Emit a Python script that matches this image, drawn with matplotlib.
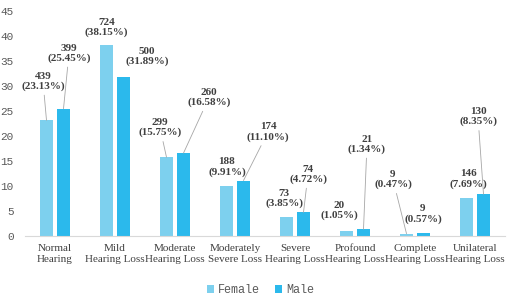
import numpy as np
import matplotlib.pyplot as plt

categories = ["Normal\nHearing", "Mild\nHearing Loss", "Moderate\nHearing Loss",
              "Moderately\nSevere Loss", "Severe\nHearing Loss", "Profound\nHearing Loss",
              "Complete\nHearing Loss", "Unilateral\nHearing Loss"]
female_pct = [23.13, 38.15, 15.75, 9.91, 3.85, 1.05, 0.47, 7.69]
male_pct = [25.45, 31.89, 16.58, 11.10, 4.72, 1.34, 0.57, 8.35]
female_n = [439, 724, 299, 188, 73, 20, 9, 146]
male_n = [399, 500, 260, 174, 74, 21, 9, 130]

# label placement (offset in pixels from bar top, draw leader line?)
female_off = [(-3.5, 39, True), (0, 17.5, False), (-6.5, 29.5, True), (0.5, 19.4, False),
              (-2.5, 18, False), (-7.5, 20, False), (-13.5, 54, True), (1.5, 18.5, False)]
male_off = [(5.5, 55.5, True), (23.5, 20, False), (25.5, 55.5, True), (24.5, 48.5, True),
            (4.5, 38, True), (3.5, 85, True), (-0.5, 19, False), (-5.5, 77.5, True)]

c_female = '#7DD0EE'
c_male = '#2BB9EC'
txt = '#404040'

fig = plt.figure(figsize=(5.21, 3.02), dpi=100)
ax = fig.add_axes([25/521, 1 - 236/302, 480/521, 225/302])

x = np.arange(len(categories))
w = 13/60
d = 8.5/60
bf = ax.bar(x - d, female_pct, w, color=c_female, label='Female')
bm = ax.bar(x + d, male_pct, w, color=c_male, label='Male')

def label(xs, vals, ns, offs):
    for xi, v, n, (dx, dy, line) in zip(xs, vals, ns, offs):
        ap = dict(arrowstyle='-', color='#A6A6A6', lw=0.6, shrinkA=1, shrinkB=0) if line else None
        ax.annotate(f"{n}\n({v:.2f}%)", xy=(xi, v), xytext=(dx, dy),
                    textcoords='offset pixels', ha='center', va='center',
                    fontfamily='Liberation Serif', fontweight='bold', fontsize=8,
                    color=txt, linespacing=1.1, arrowprops=ap)

label(x - d, female_pct, female_n, female_off)
label(x + d, male_pct, male_n, male_off)

ax.set_xlim(-0.5, 7.5)
ax.set_ylim(0, 45)
ax.set_yticks(np.arange(0, 46, 5))
ax.set_xticks(x)
ax.set_xticklabels(categories, fontfamily='Liberation Serif', fontsize=8,
                   color=txt, linespacing=1.3)
for t in ax.get_yticklabels():
    t.set_fontfamily('Liberation Mono')
ax.tick_params(axis='y', length=0, pad=8, labelsize=8, labelcolor='#595959')
ax.tick_params(axis='x', length=0, pad=6)
for s in ['top', 'right', 'left']:
    ax.spines[s].set_visible(False)
ax.spines['bottom'].set_color('#D9D9D9')

fig.legend(handles=[bf, bm], loc='center', bbox_to_anchor=(0.5, 1 - 290/302), ncol=2,
           frameon=False, handlelength=0.6, handleheight=0.6, handletextpad=0.3,
           columnspacing=1.3, prop={'family': 'Liberation Mono', 'size': 8.5},
           labelcolor='#595959')

fig.savefig('out.png', dpi=100)
